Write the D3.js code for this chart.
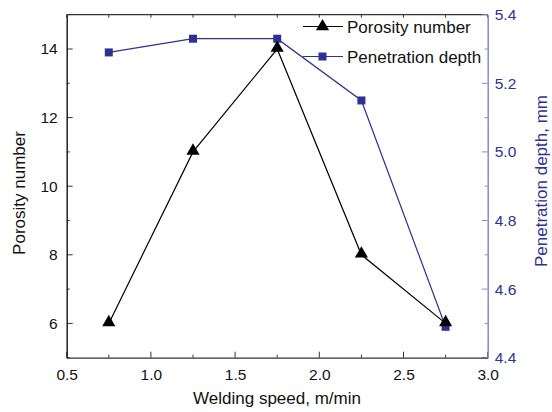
<!DOCTYPE html>
<html>
<head>
<meta charset="utf-8">
<script src="https://cdn.jsdelivr.net/npm/d3@7"></script>
<style>
  body { margin: 0; background: #fff; }
  svg text { font-family: "Liberation Sans", Arial, sans-serif; }
</style>
</head>
<body>
<div id="chart"></div>
<script>
// data
const speeds = [0.75, 1.25, 1.75, 2.25, 2.75];
const porosity = [6, 11, 14, 8, 6];
const depth = [5.29, 5.33, 5.33, 5.15, 4.49];
const xTicks = [0.5, 1.0, 1.5, 2.0, 2.5, 3.0];
const yLeftTicks = [6, 8, 10, 12, 14];
const yRightTicks = [4.4, 4.6, 4.8, 5.0, 5.2, 5.4];

const W = 552, H = 412;
const margin = {top: 14.7, right: 64.3, bottom: 54.3, left: 66.7};
const width = W - margin.left - margin.right,
      height = H - margin.top - margin.bottom;

const blue = "#2e3192";
const blueAxis = "#8a8ac8";

const svg = d3.select("#chart").append("svg")
    .attr("width", W)
    .attr("height", H);
const g = svg.append("g")
    .attr("transform", `translate(${margin.left},${margin.top})`);

const x = d3.scaleLinear().domain([0.5, 3.0]).range([0, width]);
const yL = d3.scaleLinear().domain([5, 15]).range([height, 0]);
const yR = d3.scaleLinear().domain([4.4, 5.4]).range([height, 0]);

// frame top line
g.append("line").attr("x1", 0).attr("x2", width).attr("y1", 0).attr("y2", 0)
    .attr("stroke", "#333").attr("stroke-width", 1.3);

// ticks inward
function tickSet(cls, vals, fn) {
    g.selectAll("." + cls).data(vals).enter().append("line").each(fn);
}
const minorX = d3.range(0.75, 3.0, 0.5);
// bottom
tickSet("bt", xTicks, function(d) {
    d3.select(this).attr("x1", x(d)).attr("x2", x(d)).attr("y1", height).attr("y2", height - 6)
        .attr("stroke", "#333");
});
tickSet("btm", minorX, function(d) {
    d3.select(this).attr("x1", x(d)).attr("x2", x(d)).attr("y1", height).attr("y2", height - 3)
        .attr("stroke", "#333");
});
// top
tickSet("tt", xTicks, function(d) {
    d3.select(this).attr("x1", x(d)).attr("x2", x(d)).attr("y1", 0).attr("y2", 3)
        .attr("stroke", "#333");
});
tickSet("ttm", minorX, function(d) {
    d3.select(this).attr("x1", x(d)).attr("x2", x(d)).attr("y1", 0).attr("y2", 3)
        .attr("stroke", "#333");
});
// left
tickSet("lt", yLeftTicks, function(d) {
    d3.select(this).attr("x1", 0).attr("x2", 6).attr("y1", yL(d)).attr("y2", yL(d))
        .attr("stroke", "#333");
});
tickSet("ltm", [5, 7, 9, 11, 13, 15], function(d) {
    d3.select(this).attr("x1", 0).attr("x2", 3).attr("y1", yL(d)).attr("y2", yL(d))
        .attr("stroke", "#333");
});
// right
tickSet("rt", yRightTicks, function(d) {
    d3.select(this).attr("x1", width).attr("x2", width - 6).attr("y1", yR(d)).attr("y2", yR(d))
        .attr("stroke", blueAxis);
});
tickSet("rtm", [4.5, 4.7, 4.9, 5.1, 5.3], function(d) {
    d3.select(this).attr("x1", width).attr("x2", width - 3).attr("y1", yR(d)).attr("y2", yR(d))
        .attr("stroke", blueAxis);
});

// axes (labels only, ticks drawn above)
const xAxis = g.append("g")
    .attr("transform", `translate(0,${height})`)
    .call(d3.axisBottom(x).tickValues(xTicks).tickFormat(d3.format(".1f")).tickSize(0).tickPadding(11));
const yAxisL = g.append("g")
    .call(d3.axisLeft(yL).tickValues(yLeftTicks).tickSize(0).tickPadding(9));
const yAxisR = g.append("g")
    .attr("transform", `translate(${width},0)`)
    .call(d3.axisRight(yR).tickValues(yRightTicks).tickFormat(d3.format(".1f")).tickSize(0).tickPadding(7));

[xAxis, yAxisL, yAxisR].forEach(a => {
    a.selectAll("text").style("font-size", "15.5px");
});
xAxis.select(".domain").attr("stroke", "#333").attr("stroke-width", 1.3);
yAxisL.select(".domain").attr("stroke", "#222").attr("stroke-width", 1.5);
yAxisR.select(".domain").attr("stroke", blueAxis).attr("stroke-width", 1.5);
xAxis.selectAll("text").attr("fill", "#111");
yAxisL.selectAll("text").attr("fill", "#111");
yAxisR.selectAll("text").attr("fill", blue);

// series lines
const lineL = d3.line().x((d, i) => x(speeds[i])).y(d => yL(d));
const lineR = d3.line().x((d, i) => x(speeds[i])).y(d => yR(d));

g.append("path").datum(depth)
    .attr("d", lineR).attr("fill", "none").attr("stroke", blue).attr("stroke-width", 1.2);
g.append("path").datum(porosity)
    .attr("d", lineL).attr("fill", "none").attr("stroke", "#000").attr("stroke-width", 1.2);

const tri = d3.symbol().type(d3.symbolTriangle).size(75);
const sq = d3.symbol().type(d3.symbolSquare).size(64);

g.selectAll(".sq").data(depth).enter().append("path")
    .attr("d", sq)
    .attr("transform", (d, i) => `translate(${x(speeds[i])},${yR(d)})`)
    .attr("fill", blue);
g.selectAll(".tri").data(porosity).enter().append("path")
    .attr("d", tri)
    .attr("transform", (d, i) => `translate(${x(speeds[i])},${yL(d) - 1})`)
    .attr("fill", "#000");

// legend
const legend = svg.append("g");
const legItems = [
    {label: "Porosity number", color: "#000", sym: tri, y: 26.5},
    {label: "Penetration depth", color: blue, sym: sq, y: 56.5}
];
legItems.forEach(it => {
    legend.append("line").attr("x1", 303).attr("x2", 343).attr("y1", it.y).attr("y2", it.y)
        .attr("stroke", it.color).attr("stroke-width", 1.2);
    legend.append("path").attr("d", it.sym)
        .attr("transform", `translate(322.5,${it.y})`).attr("fill", it.color);
    legend.append("text").attr("x", 347).attr("y", it.y + 6)
        .style("font-size", "17px").attr("fill", "#111").text(it.label);
});

// axis titles
svg.append("text")
    .attr("x", 277).attr("y", 404)
    .attr("text-anchor", "middle").style("font-size", "17px").attr("fill", "#111")
    .text("Welding speed, m/min");
svg.append("text")
    .attr("transform", `translate(25,193) rotate(-90)`)
    .attr("text-anchor", "middle").style("font-size", "17px").attr("fill", "#111")
    .text("Porosity number");
svg.append("text")
    .attr("transform", `translate(547,181) rotate(-90)`)
    .attr("text-anchor", "middle").style("font-size", "17px").attr("fill", blue)
    .text("Penetration depth, mm");
</script>
</body>
</html>
